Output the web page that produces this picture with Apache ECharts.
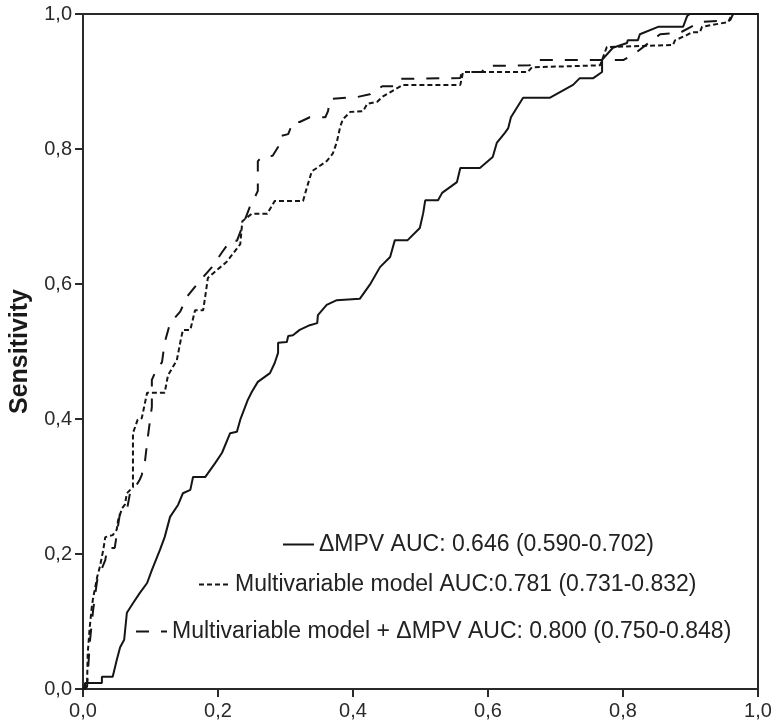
<!DOCTYPE html>
<html>
<head>
<meta charset="utf-8">
<script src="https://cdn.jsdelivr.net/npm/echarts@6/dist/echarts.min.js"></script>
<style>
  html, body { margin: 0; padding: 0; background: #fff; }
  #roc-chart { width: 773px; height: 724px; }
</style>
</head>
<body>
<div id="roc-chart"></div>
<script>
// ROC curves, points are [1 - specificity, sensitivity]
var mpvName = 'ΔMPV AUC: 0.646 (0.590-0.702)';
var modelName = 'Multivariable model AUC:0.781 (0.731-0.832)';
var comboName = 'Multivariable model + ΔMPV AUC: 0.800 (0.750-0.848)';

var axisTicks = [0, 0.2, 0.4, 0.6, 0.8, 1.0];

var mpvCurve = [
  [0, 0], [0.003, 0], [0.003, 0.009], [0.028, 0.009], [0.028, 0.018], [0.044, 0.018],
  [0.050, 0.043], [0.055, 0.062], [0.061, 0.073], [0.065, 0.113], [0.074, 0.127],
  [0.084, 0.142], [0.095, 0.157], [0.102, 0.176], [0.110, 0.196], [0.114, 0.206],
  [0.121, 0.225], [0.129, 0.255], [0.141, 0.273], [0.148, 0.290], [0.159, 0.295],
  [0.163, 0.314], [0.181, 0.314], [0.196, 0.335], [0.206, 0.350], [0.218, 0.379],
  [0.228, 0.381], [0.233, 0.399], [0.244, 0.428], [0.250, 0.440], [0.259, 0.455],
  [0.277, 0.468], [0.284, 0.483], [0.289, 0.498], [0.289, 0.513], [0.302, 0.514],
  [0.304, 0.523], [0.311, 0.524], [0.321, 0.532], [0.336, 0.539], [0.347, 0.542],
  [0.348, 0.554], [0.361, 0.569], [0.376, 0.576], [0.410, 0.578], [0.425, 0.599],
  [0.440, 0.625], [0.455, 0.640], [0.462, 0.665], [0.481, 0.665], [0.499, 0.683],
  [0.504, 0.705], [0.507, 0.724], [0.526, 0.724], [0.532, 0.735], [0.554, 0.751],
  [0.559, 0.772], [0.588, 0.772], [0.607, 0.788], [0.613, 0.809], [0.625, 0.824],
  [0.630, 0.831], [0.634, 0.847], [0.652, 0.876], [0.692, 0.876], [0.726, 0.895],
  [0.736, 0.905], [0.756, 0.905], [0.769, 0.914], [0.769, 0.932], [0.785, 0.950],
  [0.806, 0.957], [0.807, 0.961], [0.822, 0.961], [0.825, 0.970], [0.852, 0.981],
  [0.889, 0.981], [0.895, 0.997], [0.899, 1], [1, 1]
];

var modelCurve = [
  [0, 0], [0.006, 0.006], [0.007, 0.053], [0.010, 0.092], [0.013, 0.121], [0.015, 0.135],
  [0.018, 0.150], [0.021, 0.166], [0.025, 0.181], [0.030, 0.206], [0.033, 0.225],
  [0.044, 0.228], [0.050, 0.236], [0.052, 0.250], [0.058, 0.268], [0.062, 0.273],
  [0.065, 0.290], [0.074, 0.299], [0.074, 0.379], [0.081, 0.399], [0.087, 0.401],
  [0.095, 0.439], [0.121, 0.439], [0.126, 0.465], [0.139, 0.487], [0.144, 0.513],
  [0.148, 0.532], [0.159, 0.532], [0.166, 0.561], [0.178, 0.561], [0.181, 0.581],
  [0.185, 0.609], [0.193, 0.616], [0.213, 0.633], [0.233, 0.659], [0.236, 0.693],
  [0.250, 0.704], [0.273, 0.704], [0.284, 0.723], [0.326, 0.723], [0.332, 0.744],
  [0.339, 0.767], [0.348, 0.773], [0.361, 0.782], [0.370, 0.793], [0.376, 0.810],
  [0.381, 0.833], [0.385, 0.844], [0.396, 0.855], [0.415, 0.856], [0.421, 0.867],
  [0.436, 0.870], [0.443, 0.877], [0.455, 0.884], [0.474, 0.895], [0.559, 0.895],
  [0.563, 0.914], [0.659, 0.914], [0.665, 0.921], [0.766, 0.924], [0.776, 0.951],
  [0.874, 0.954], [0.877, 0.961], [0.895, 0.969], [0.902, 0.973], [0.914, 0.973],
  [0.917, 0.981], [0.933, 0.984], [0.956, 0.988], [0.961, 0.999], [0.964, 1], [1, 1]
];

var comboCurve = [
  [0, 0], [0.006, 0.003], [0.010, 0.068], [0.015, 0.117], [0.021, 0.161], [0.033, 0.191],
  [0.036, 0.209], [0.047, 0.209], [0.055, 0.262], [0.065, 0.265], [0.070, 0.292],
  [0.077, 0.298], [0.084, 0.310], [0.087, 0.317], [0.092, 0.339], [0.096, 0.373],
  [0.102, 0.418], [0.102, 0.458], [0.110, 0.476], [0.117, 0.484], [0.121, 0.513],
  [0.129, 0.542], [0.144, 0.559], [0.154, 0.581], [0.170, 0.601], [0.191, 0.625],
  [0.206, 0.647], [0.218, 0.664], [0.228, 0.664], [0.247, 0.714], [0.252, 0.723],
  [0.259, 0.738], [0.259, 0.782], [0.265, 0.788], [0.281, 0.790], [0.289, 0.803],
  [0.292, 0.819], [0.304, 0.822], [0.311, 0.840], [0.321, 0.840], [0.336, 0.847],
  [0.359, 0.847], [0.363, 0.856], [0.366, 0.874], [0.406, 0.877], [0.425, 0.881],
  [0.430, 0.886], [0.444, 0.893], [0.462, 0.893], [0.470, 0.904], [0.559, 0.905],
  [0.561, 0.914], [0.591, 0.914], [0.596, 0.923], [0.662, 0.924], [0.667, 0.932],
  [0.801, 0.932], [0.818, 0.942], [0.855, 0.970], [0.884, 0.972], [0.914, 0.988],
  [0.959, 0.991], [0.963, 1], [1, 1]
];

var fontFamily = 'Liberation Sans, Arial, sans-serif';
var ink = '#151515';

var chart = echarts.init(document.getElementById('roc-chart'), null, { renderer: 'canvas' });

function commaLabel(v) {
  return v.toFixed(1).replace('.', ',');
}

function legendAt(name, left, top) {
  return {
    data: [name],
    left: left,
    top: top,
    padding: 0,
    itemWidth: 31,
    itemHeight: 14,
    selectedMode: false,
    itemStyle: { opacity: 0 },
    textStyle: { fontFamily: fontFamily, fontSize: 23, color: '#222' }
  };
}

var axisBase = {
  type: 'value',
  min: axisTicks[0],
  max: axisTicks[axisTicks.length - 1],
  interval: 0.2,
  splitLine: { show: false },
  axisLine: { show: true, lineStyle: { color: '#2a2a2a', width: 2 } },
  axisTick: { show: true, inside: false, length: 8, lineStyle: { color: '#2a2a2a', width: 2 } },
  axisLabel: { formatter: commaLabel, fontFamily: fontFamily, fontSize: 20, color: '#2a2a2a' }
};

var option = {
  animation: false,
  backgroundColor: '#fff',
  grid: {
    left: 83, right: 15, top: 14, bottom: 35,
    outerBoundsMode: 'none',
    show: true, borderColor: '#2a2a2a', borderWidth: 2, backgroundColor: 'transparent'
  },
  legend: [
    legendAt(mpvName, 282, 533),
    legendAt(modelName, 198, 573),
    legendAt(comboName, 135, 620)
  ],
  xAxis: Object.assign({}, axisBase, {
    axisLabel: Object.assign({}, axisBase.axisLabel, { margin: 12 })
  }),
  yAxis: Object.assign({}, axisBase, {
    name: 'Sensitivity',
    nameLocation: 'middle',
    nameGap: 50,
    nameRotate: 90,
    nameTextStyle: { fontFamily: fontFamily, fontSize: 25, fontWeight: 'bold', color: '#1a1a1a' },
    axisLabel: Object.assign({}, axisBase.axisLabel, { margin: 11 })
  }),
  series: [
    {
      name: mpvName, type: 'line', data: mpvCurve, symbol: 'none',
      lineStyle: { color: ink, width: 2, type: 'solid' }
    },
    {
      name: modelName, type: 'line', data: modelCurve, symbol: 'none',
      lineStyle: { color: ink, width: 2, type: [5, 3] }
    },
    {
      name: comboName, type: 'line', data: comboCurve, symbol: 'none',
      lineStyle: { color: ink, width: 2, type: [13, 12] }
    }
  ]
};

chart.setOption(option);
</script>
</body>
</html>
